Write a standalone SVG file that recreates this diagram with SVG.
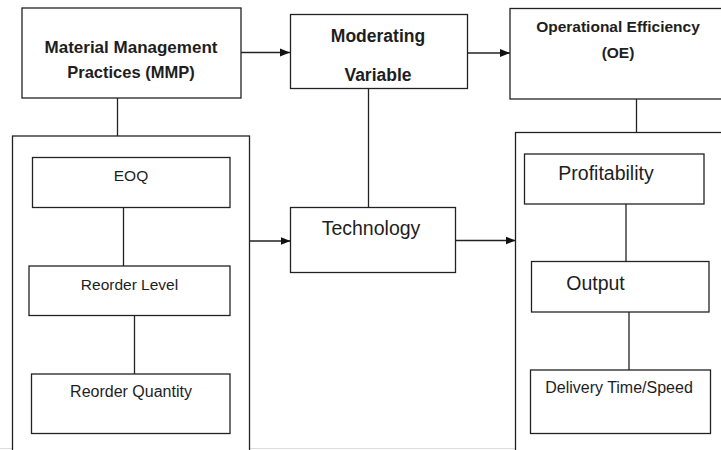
<svg xmlns="http://www.w3.org/2000/svg" width="721" height="450" viewBox="0 0 721 450">
<defs>
<marker id="arr" markerUnits="userSpaceOnUse" markerWidth="10" markerHeight="9" refX="10" refY="4.5" orient="auto">
<path d="M0,0.5 L10,4.5 L0,8.5 z" fill="#111"/>
</marker>
<style>
rect{fill:#fff;stroke:#222;stroke-width:1.3}
.c line{stroke:#222;stroke-width:1.3}
text{font-family:"Liberation Sans",Arial,sans-serif;fill:#1e1e1e;text-anchor:middle}
.b{font-weight:bold}
</style>
</defs>
<rect x="0" y="0" width="721" height="450" style="fill:#fff;stroke:none"/>
<line x1="0" y1="448.5" x2="721" y2="448.5" stroke="#dcdcdc" stroke-width="1"/>

<g id="left-container"><rect x="12.5" y="136" width="237" height="330"/></g>
<g id="right-container"><rect x="515.5" y="132.5" width="225" height="330"/></g>

<g id="mmp">
<rect x="22" y="8" width="219" height="90"/>
<text class="b" x="131" y="53" font-size="17">Material Management</text>
<text class="b" x="131" y="78" font-size="16.5">Practices (MMP)</text>
</g>
<g id="moderating">
<rect x="290.5" y="14.5" width="177" height="74"/>
<text class="b" x="378" y="41.5" font-size="17.5">Moderating</text>
<text class="b" x="378" y="80.5" font-size="17.5">Variable</text>
</g>
<g id="oe">
<rect x="510" y="8.5" width="225" height="90.5"/>
<text class="b" x="618" y="31.5" font-size="15.5">Operational Efficiency</text>
<text class="b" x="618" y="58" font-size="15.5">(OE)</text>
</g>
<g id="technology">
<rect x="290.5" y="207.5" width="165" height="65"/>
<text x="371" y="235" font-size="19.5">Technology</text>
</g>
<g id="eoq">
<rect x="32.5" y="157.5" width="197.5" height="50"/>
<text x="131" y="181" font-size="15.5">EOQ</text>
</g>
<g id="reorder-level">
<rect x="29" y="266" width="201" height="49.5"/>
<text x="129.5" y="290" font-size="15.5">Reorder Level</text>
</g>
<g id="reorder-quantity">
<rect x="31.5" y="374" width="198.5" height="59.5"/>
<text x="131" y="396.5" font-size="16">Reorder Quantity</text>
</g>
<g id="profitability">
<rect x="524.5" y="154" width="179.5" height="50"/>
<text x="606" y="180" font-size="19.5">Profitability</text>
</g>
<g id="output">
<rect x="531.5" y="261.5" width="177.5" height="50.5"/>
<text x="595.5" y="290" font-size="19.5">Output</text>
</g>
<g id="delivery">
<rect x="530.5" y="370" width="180" height="63.5"/>
<text x="619" y="392.5" font-size="16">Delivery Time/Speed</text>
</g>

<g class="c" id="connectors">
<line x1="241" y1="52.5" x2="290" y2="52.5" marker-end="url(#arr)"/>
<line x1="467.5" y1="53" x2="510" y2="53" marker-end="url(#arr)"/>
<line x1="117.5" y1="98" x2="117.5" y2="136"/>
<line x1="368.5" y1="88.5" x2="368.5" y2="207.5"/>
<line x1="249.5" y1="241" x2="290.5" y2="241" marker-end="url(#arr)"/>
<line x1="455.5" y1="240.5" x2="515.5" y2="240.5" marker-end="url(#arr)"/>
<line x1="636.5" y1="99" x2="636.5" y2="132.5"/>
<line x1="123.5" y1="207.5" x2="123.5" y2="266"/>
<line x1="134.5" y1="315.5" x2="134.5" y2="374"/>
<line x1="626" y1="204" x2="626" y2="261.5"/>
<line x1="629" y1="312" x2="629" y2="370"/>
</g>
</svg>
